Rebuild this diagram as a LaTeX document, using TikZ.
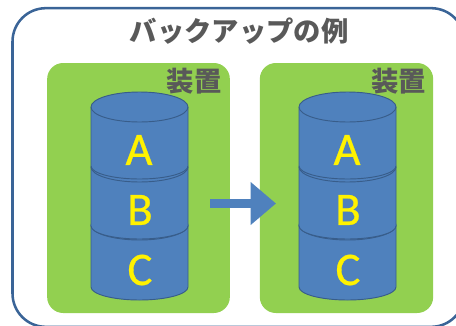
\documentclass[tikz,border=0pt]{standalone}
\usepackage{fontspec}
\usepackage{xcolor}
\usetikzlibrary{arrows.meta}
\newfontfamily\jpfont{Noto Sans CJK JP}
\newfontfamily\letterfont[FakeBold=0.6]{Carlito}
\definecolor{framecol}{HTML}{3A6497}
\definecolor{boxgreen}{HTML}{92D050}
\definecolor{drumblue}{HTML}{4F81BD}
\definecolor{drumline}{HTML}{385D8A}
\definecolor{labelgray}{HTML}{595959}
\tikzset{
  outerframe/.style={draw=framecol,line width=1.9pt,rounded corners=25pt,minimum width=339pt,minimum height=239pt,outer sep=0pt},
  devicebox/.style={fill=boxgreen,rounded corners=12pt,minimum height=187.5pt,outer sep=0pt},
  drumpart/.style={fill=drumblue,draw=drumline,line width=0.7pt},
  titletext/.style={text=labelgray,font=\jpfont\bfseries\fontsize{20.5pt}{24pt}\selectfont,inner sep=0pt},
  letter/.style={text=yellow,font=\letterfont\fontsize{35pt}{40pt}\selectfont,inner sep=0pt},
  copyarrow/.style={draw=drumblue,line width=6.4pt,-{Triangle[length=19pt,width=31pt]}}
}
% centre x, centre y of the top end, y where the side stops
\newcommand{\drum}[3]{
   \draw[drumpart] (#1-48.5,#2) -- (#1-48.5,#3)
      arc[start angle=180,end angle=0,x radius=48.5,y radius=13]
      -- (#1+48.5,#2)
      arc[start angle=0,end angle=-180,x radius=48.5,y radius=15] -- cycle;
   \draw[drumline,line width=0.7pt] (#1-48.5,#2)
      arc[start angle=180,end angle=0,x radius=48.5,y radius=15];
}
\begin{document}
\begin{tikzpicture}[x=0.75pt,y=-0.75pt]
   \useasboundingbox (0,0) rectangle (456,325);
   \clip (0,0) rectangle (456,325);

   \draw (238.5,167.5) node[outerframe] (frame) {};
   \draw (239,31) node[titletext] (title) {バックアップの例};

   \draw (138.5,188) node[devicebox,minimum width=137pt] (device1) {};
   \draw (346.5,188) node[devicebox,minimum width=130pt] (device2) {};
   \draw (194,81.5) node[titletext] (name1) {装置};
   \draw (398.5,81.5) node[titletext] (name2) {装置};

   % left stack
   \drum{139.5}{225}{287}
   \drum{139.5}{167}{226}
   \drum{139.5}{107}{166}
   \draw (139,150) node[letter] (textA1) {A};
   \draw (140,210) node[letter] (textB1) {B};
   \draw (140,270) node[letter] (textC1) {C};

   % right stack
   \drum{347.5}{225}{287}
   \drum{347.5}{167}{226}
   \drum{347.5}{107}{166}
   \draw (347,150) node[letter] (textA2) {A};
   \draw (348,210) node[letter] (textB2) {B};
   \draw (348,270) node[letter] (textC2) {C};

   \coordinate (copyfrom) at (210,203.5);
   \coordinate (copyto) at (276,203.5);
   \draw[copyarrow] (copyfrom) -- (copyto);
\end{tikzpicture}
\end{document}
